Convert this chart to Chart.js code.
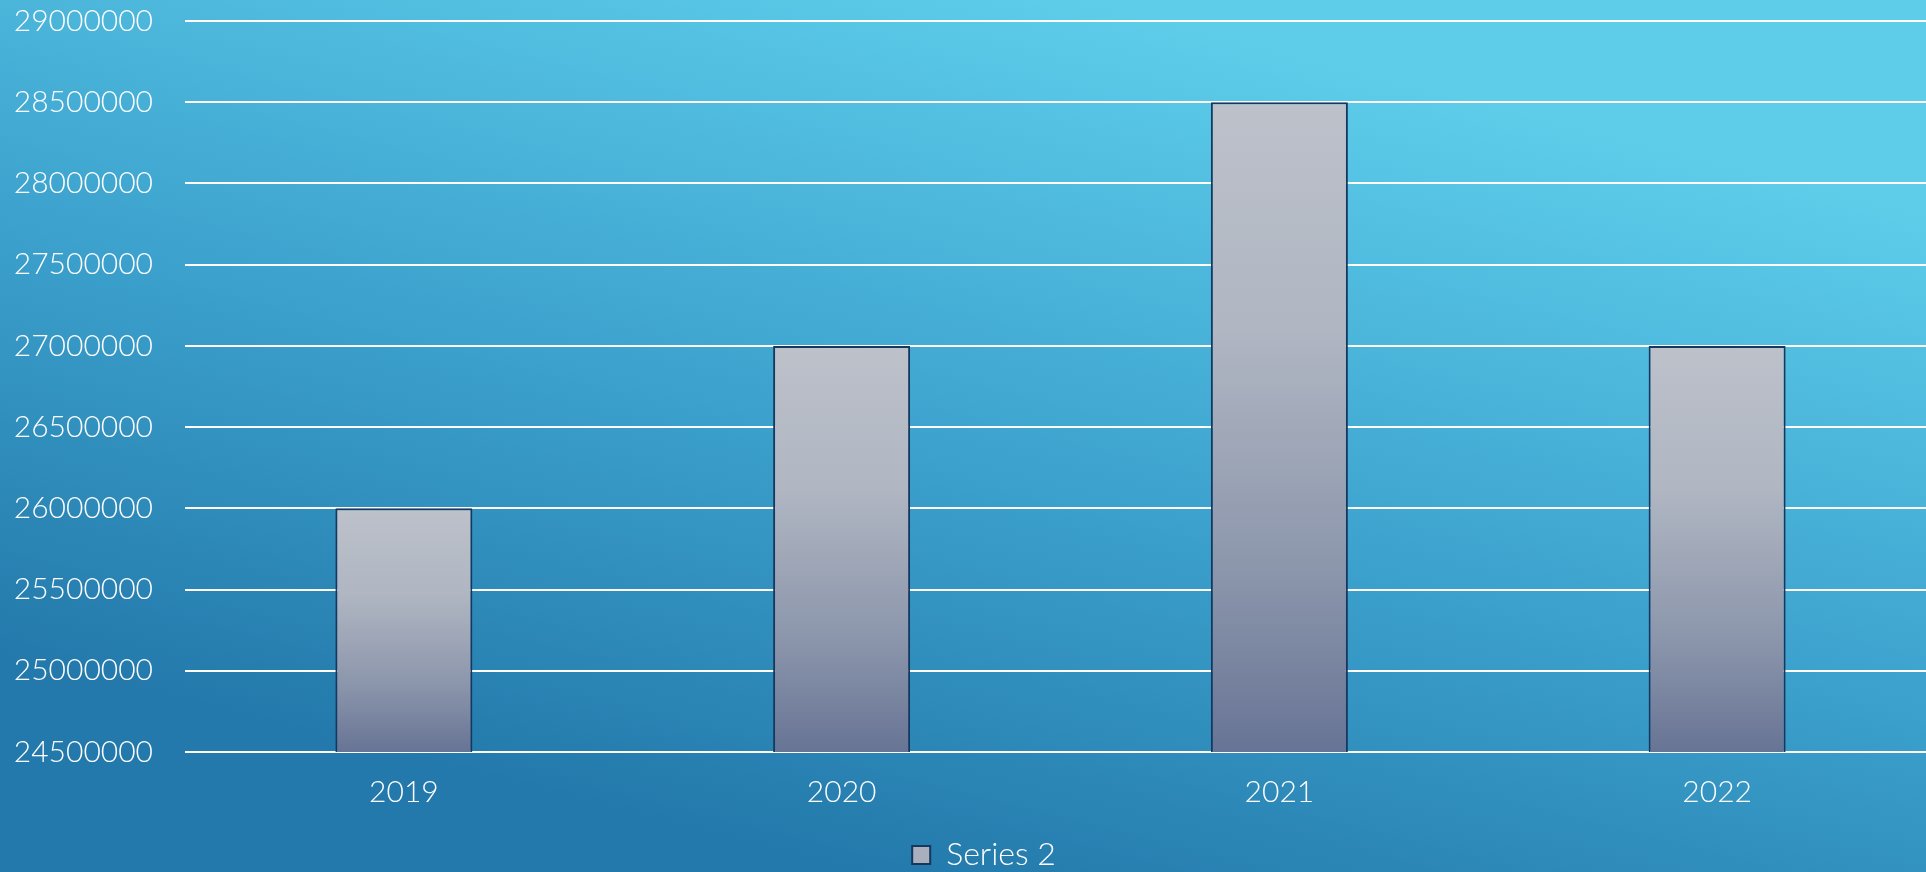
<!DOCTYPE html>
<html>
<head>
<meta charset="utf-8">
<script src="https://cdn.jsdelivr.net/npm/chart.js@4"></script>
<style>
html,body{margin:0;padding:0;overflow:hidden;background:#2f8fbf;}
#wrap{width:1936px;height:872px;position:relative;}
canvas{display:block;}
</style>
</head>
<body>
<div id="wrap"><canvas id="c" width="1936" height="872"></canvas></div>
<script>
const categories = ['2019', '2020', '2021', '2022'];
const seriesName = 'Series 2';
const seriesValues = [26000000, 27000000, 28500000, 27000000];
const yMin = 24500000;
const yMax = 29000000;
const yStep = 500000;

const FONT = 'Lato, "Open Sans", "Liberation Sans", sans-serif';

const bgPlugin = {
  id: 'bg',
  beforeDraw(chart) {
    const ctx = chart.ctx;
    const w = chart.width, h = chart.height;
    const g = ctx.createLinearGradient(860, 872, 1080, 0);
    g.addColorStop(0, '#2379ab');
    g.addColorStop(0.5, '#3ea4cf');
    g.addColorStop(1, '#5dcdea');
    ctx.save();
    ctx.fillStyle = g;
    ctx.fillRect(0, 0, w, h);
    ctx.restore();
  },
  afterLayout(chart) {
    const lg = chart.legend;
    if (lg) {
      lg.left += 16; lg.right += 16;
      lg.top += 9; lg.bottom += 9;
    }
  }
};

function barFill(context) {
  const chart = context.chart;
  if (!chart.chartArea || context.raw === undefined) return '#a9afbd';
  const y = chart.scales.y;
  const top = y.getPixelForValue(context.raw);
  const bottom = y.getPixelForValue(yMin);
  if (!isFinite(top) || !isFinite(bottom) || top === bottom) return '#a9afbd';
  const g = chart.ctx.createLinearGradient(0, top, 0, bottom);
  g.addColorStop(0, '#bcc1ca');
  g.addColorStop(0.35, '#b0b6c2');
  g.addColorStop(0.7, '#8e98ad');
  g.addColorStop(1, '#687495');
  return g;
}

new Chart(document.getElementById('c'), {
  type: 'bar',
  data: {
    labels: categories,
    datasets: [{
      label: seriesName,
      data: seriesValues,
      backgroundColor: barFill,
      borderColor: '#17375e',
      borderWidth: {top: 2, left: 2, right: 2, bottom: 0},
      borderSkipped: false,
      categoryPercentage: 1,
      barPercentage: 0.313
    }]
  },
  options: {
    responsive: false,
    animation: false,
    layout: {padding: {left: 0, top: 21, right: 0, bottom: 0}},
    scales: {
      x: {
        grid: {display: false, drawTicks: false},
        border: {display: false},
        ticks: {color: '#ffffff', font: {family: FONT, size: 30, weight: 300}, padding: 22},
        afterFit(scale) { scale.height = 75; }
      },
      y: {
        min: yMin,
        max: yMax,
        grid: {color: '#ffffff', lineWidth: 2, drawTicks: false},
        border: {display: false},
        ticks: {
          stepSize: yStep,
          color: '#ffffff',
          font: {family: FONT, size: 30, weight: 300},
          padding: 32,
          callback: v => String(v)
        },
        afterFit(scale) {
          scale.width = 185;
          scale.paddingTop = 0;
          scale.paddingBottom = 0;
        }
      }
    },
    plugins: {
      tooltip: {enabled: false},
      legend: {
        position: 'bottom',
        labels: {
          color: '#ffffff',
          font: {family: FONT, size: 32, weight: 300},
          boxWidth: 18,
          boxHeight: 18,
          padding: 3,
          generateLabels(chart) {
            return [{
              text: seriesName,
              fillStyle: '#a9afbd',
              strokeStyle: '#17375e',
              lineWidth: 2,
              fontColor: '#ffffff',
              datasetIndex: 0,
              hidden: false
            }];
          }
        }
      }
    }
  },
  plugins: [bgPlugin]
});
</script>
</body>
</html>
